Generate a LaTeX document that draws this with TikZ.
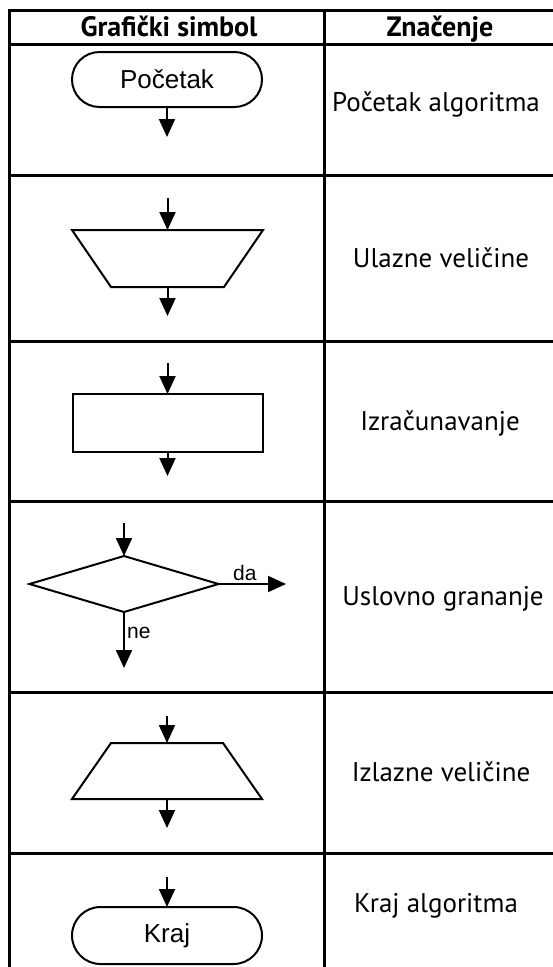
\documentclass[tikz,border=0pt]{standalone}
\usepackage{fontspec}
\setmainfont{PT Sans}
\newfontfamily\symfont{Liberation Sans}
\usetikzlibrary{shapes.geometric,shapes.misc,arrows.meta,calc}

\begin{document}
\begin{tikzpicture}[x=1pt,y=-1pt,
  grid/.style={line width=3pt},
  outline/.style={draw, line width=2pt, inner sep=0pt, outer sep=0pt},
  flow/.style={line width=2pt, -{Triangle[width=16pt,length=18pt]}},
  meaning/.style={font=\fontsize{27}{29}\selectfont, anchor=base},
  head/.style={font=\bfseries\fontsize{28}{30}\selectfont, anchor=base},
  symlabel/.style={font=\symfont\fontsize{26}{28}\selectfont},
  branch/.style={font=\symfont\fontsize{21}{23}\selectfont, anchor=base west, inner sep=0pt},
  terminal/.style={outline, rounded rectangle, minimum width=190pt, minimum height=55pt, symlabel},
  frame/.style={inner sep=0pt, outer sep=0pt}
]
\useasboundingbox (0,0) rectangle (552,967);

% table rules
\draw[grid] (556,10) -- (9.5,10) -- (9.5,970);
\draw[grid] (324.7,10) -- (324.7,970);
\foreach \yy in {44.3,175.3,341,501.7,692,853.5}
  \draw[grid] (9.5,\yy) -- (556,\yy);

% header
\node[head] (h1) at (169,36) {Grafički simbol};
\node[head] (h2) at (440,36) {Značenje};

% row 1: start terminal
\node[terminal] (start) at (167,79.5) {Početak};
\coordinate (startout) at (167,137);
\draw[flow] (start.south) -- (startout);
\node[meaning] (m1) at (436,111) {Početak algoritma};

% row 2: input trapezium
\node[frame, minimum width=191pt, minimum height=57pt] (inp) at (167.5,258.5) {};
\draw[line width=2pt, line join=miter] (inp.north west) -- (inp.north east)
  -- ($(inp.south east)+(-39,0)$) -- ($(inp.south west)+(39,0)$) -- cycle;
\coordinate (inpin) at (167.5,198);
\coordinate (inpout) at (167.5,316);
\draw[flow] (inpin) -- (inp.north);
\draw[flow] (inp.south) -- (inpout);
\node[meaning] (m2) at (441,267) {Ulazne veličine};

% row 3: process box
\node[outline, rectangle, minimum width=190pt, minimum height=58pt] (proc) at (167.5,423) {};
\coordinate (procin) at (167.5,363);
\coordinate (procout) at (167.5,476);
\draw[flow] (procin) -- (proc.north);
\draw[flow] (proc.south) -- (procout);
\node[meaning] (m3) at (440,430) {Izračunavanje};

% row 4: decision
\node[outline, diamond, minimum width=189pt, minimum height=56pt] (dec) at (124,584) {};
\coordinate (decin) at (124,523);
\coordinate (decno) at (124,668);
\coordinate (decyes) at (286,584);
\draw[flow] (decin) -- (dec.north);
\draw[flow] (dec.south) -- (decno);
\draw[flow] (dec.east) -- (decyes);
\node[branch] (yes) at (233,580) {da};
\node[branch] (no) at (127,638) {ne};
\node[meaning] (m4) at (443,605) {Uslovno grananje};

% row 5: output trapezium
\node[frame, minimum width=190pt, minimum height=56pt] (outp) at (167,771) {};
\draw[line width=2pt, line join=miter] ($(outp.north west)+(39,0)$) -- ($(outp.north east)+(-39,0)$)
  -- (outp.south east) -- (outp.south west) -- cycle;
\coordinate (outpin) at (167,716);
\coordinate (outpout) at (167,828);
\draw[flow] (outpin) -- (outp.north);
\draw[flow] (outp.south) -- (outpout);
\node[meaning] (m5) at (441,781) {Izlazne veličine};

% row 6: end terminal
\node[terminal, minimum height=57pt] (stop) at (167,935.5) {Kraj};
\coordinate (stopin) at (167,877);
\draw[flow] (stopin) -- (stop.north);
\node[meaning] (m6) at (436,912) {Kraj algoritma};
\end{tikzpicture}
\end{document}
